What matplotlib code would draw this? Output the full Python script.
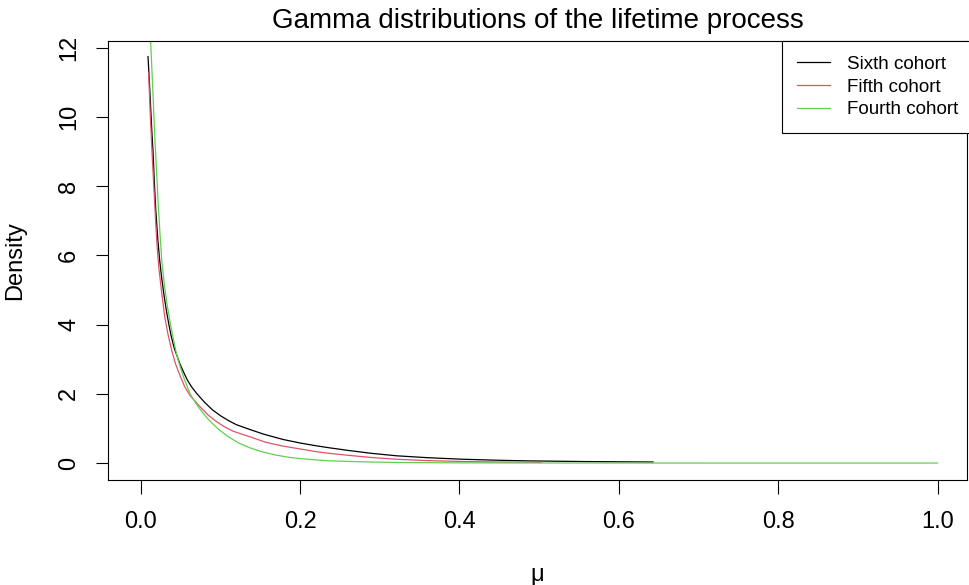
import matplotlib.pyplot as plt

plt.rcParams["font.family"] = ["Liberation Sans", "DejaVu Sans"]

# density curves (mu, density)
sixth_mu = [0.0092, 0.0110, 0.0125, 0.0140, 0.0154, 0.0172, 0.0190, 0.0214, 0.0238,
            0.0264, 0.0290, 0.0316, 0.0343, 0.0380, 0.0420, 0.0490, 0.0540, 0.0586,
            0.0640, 0.0700, 0.0800, 0.0900, 0.1000, 0.1100, 0.1200, 0.1370, 0.1550,
            0.1790, 0.2000, 0.2200, 0.2370, 0.2620, 0.2900, 0.3210, 0.3600, 0.4040,
            0.4500, 0.4880, 0.5600, 0.6430]
sixth_density = [11.75, 11.0, 10.3, 9.6, 9.05, 8.1, 7.3, 6.5, 5.87,
                 5.35, 4.9, 4.5, 4.14, 3.70, 3.33, 2.88, 2.62, 2.40,
                 2.20, 2.02, 1.76, 1.54, 1.37, 1.23, 1.11, 0.97, 0.83,
                 0.68, 0.58, 0.50, 0.44, 0.36, 0.28, 0.21, 0.155, 0.11,
                 0.08, 0.062, 0.043, 0.03]

fifth_mu = [0.0100, 0.0120, 0.0141, 0.0158, 0.0175, 0.0190, 0.0208, 0.0230, 0.0260,
            0.0301, 0.0340, 0.0390, 0.0440, 0.0490, 0.0550, 0.0620, 0.0740, 0.0850,
            0.0950, 0.1050, 0.1160, 0.1370, 0.1570, 0.1786, 0.1995, 0.2200, 0.2370,
            0.2620, 0.2900, 0.3210, 0.3600, 0.4040, 0.4500, 0.5030]
fifth_density = [11.27, 10.1, 9.05, 8.3, 7.55, 6.9, 6.2, 5.6, 5.0,
                 4.25, 3.75, 3.25, 2.85, 2.55, 2.22, 1.95, 1.64, 1.38,
                 1.20, 1.05, 0.92, 0.76, 0.60, 0.49, 0.41, 0.33, 0.28,
                 0.22, 0.16, 0.11, 0.07, 0.045, 0.03, 0.02]

fourth_mu = [0.0110, 0.0125, 0.0150, 0.0165, 0.0180, 0.0200, 0.0220, 0.0242, 0.0264,
             0.0300, 0.0330, 0.0364, 0.0400, 0.0450, 0.0500, 0.0552, 0.0620, 0.0700,
             0.0780, 0.0866, 0.0980, 0.1100, 0.1230, 0.1370, 0.1530, 0.1700, 0.1850,
             0.1995, 0.2200, 0.2370, 0.2620, 0.2900, 0.3200, 0.3600, 0.4000, 0.5000,
             0.6000, 0.7000, 1.0000]
fourth_density = [13.5, 12.2, 10.9, 10.1, 9.3, 8.4, 7.5, 6.65, 5.87,
                  5.10, 4.60, 4.14, 3.70, 3.15, 2.75, 2.40, 2.00, 1.70,
                  1.45, 1.22, 0.97, 0.76, 0.58, 0.44, 0.32, 0.23, 0.17,
                  0.13, 0.09, 0.065, 0.045, 0.03, 0.018, 0.01, 0.006, 0.002,
                  0.0006, 0.0, 0.0]

labels = ["Sixth cohort", "Fifth cohort", "Fourth cohort"]
colors = ["#000000", "#DF536B", "#61D04F"]

x_ticks = [0.0, 0.2, 0.4, 0.6, 0.8, 1.0]
y_ticks = [0, 2, 4, 6, 8, 10, 12]

W, H = 969, 585
fig = plt.figure(figsize=(W / 100, H / 100), dpi=100)
left, right, top, bottom = 108, 967, 41, 480
ax = fig.add_axes([left / W, 1 - bottom / H, (right - left) / W, (bottom - top) / H])

series = [(sixth_mu, sixth_density), (fifth_mu, fifth_density), (fourth_mu, fourth_density)]
for (mu, dens), label, color in zip(series, labels, colors):
    ax.plot(mu, dens, color=color, linewidth=0.9, label=label)

ax.set_xlim(-0.041, 1.037)
ax.set_ylim(-0.49, 12.2)
ax.set_xticks(x_ticks)
ax.set_xticklabels([f"{t:.1f}" for t in x_ticks])
ax.set_yticks(y_ticks)
ax.set_yticklabels([str(t) for t in y_ticks], rotation=90, va="center")

ax.tick_params(axis="x", direction="out", length=10, width=0.8, pad=12, labelsize=17)
ax.tick_params(axis="y", direction="out", length=9, width=0.8, pad=11, labelsize=17)
for spine in ax.spines.values():
    spine.set_linewidth(0.8)

ax.set_title("Gamma distributions of the lifetime process", fontsize=20, pad=9)
ax.set_xlabel("μ", fontsize=17)
ax.xaxis.set_label_coords(0.5, (bottom - 575) / (bottom - top))
ax.xaxis.label.set_va("center")
ax.set_ylabel("Density", fontsize=17)
ax.yaxis.set_label_coords((15 - left) / (right - left), 0.5)
ax.yaxis.label.set_va("center")

leg = ax.legend(loc="upper right", bbox_to_anchor=((973 - left) / (right - left), 1.0),
                borderaxespad=0, fancybox=False, framealpha=1, edgecolor="black",
                fontsize=13.5, handlelength=1.76, handletextpad=0.9,
                labelspacing=0.29, borderpad=0.79)
leg.get_frame().set_linewidth(0.8)

fig.savefig("out.png", dpi=100)
